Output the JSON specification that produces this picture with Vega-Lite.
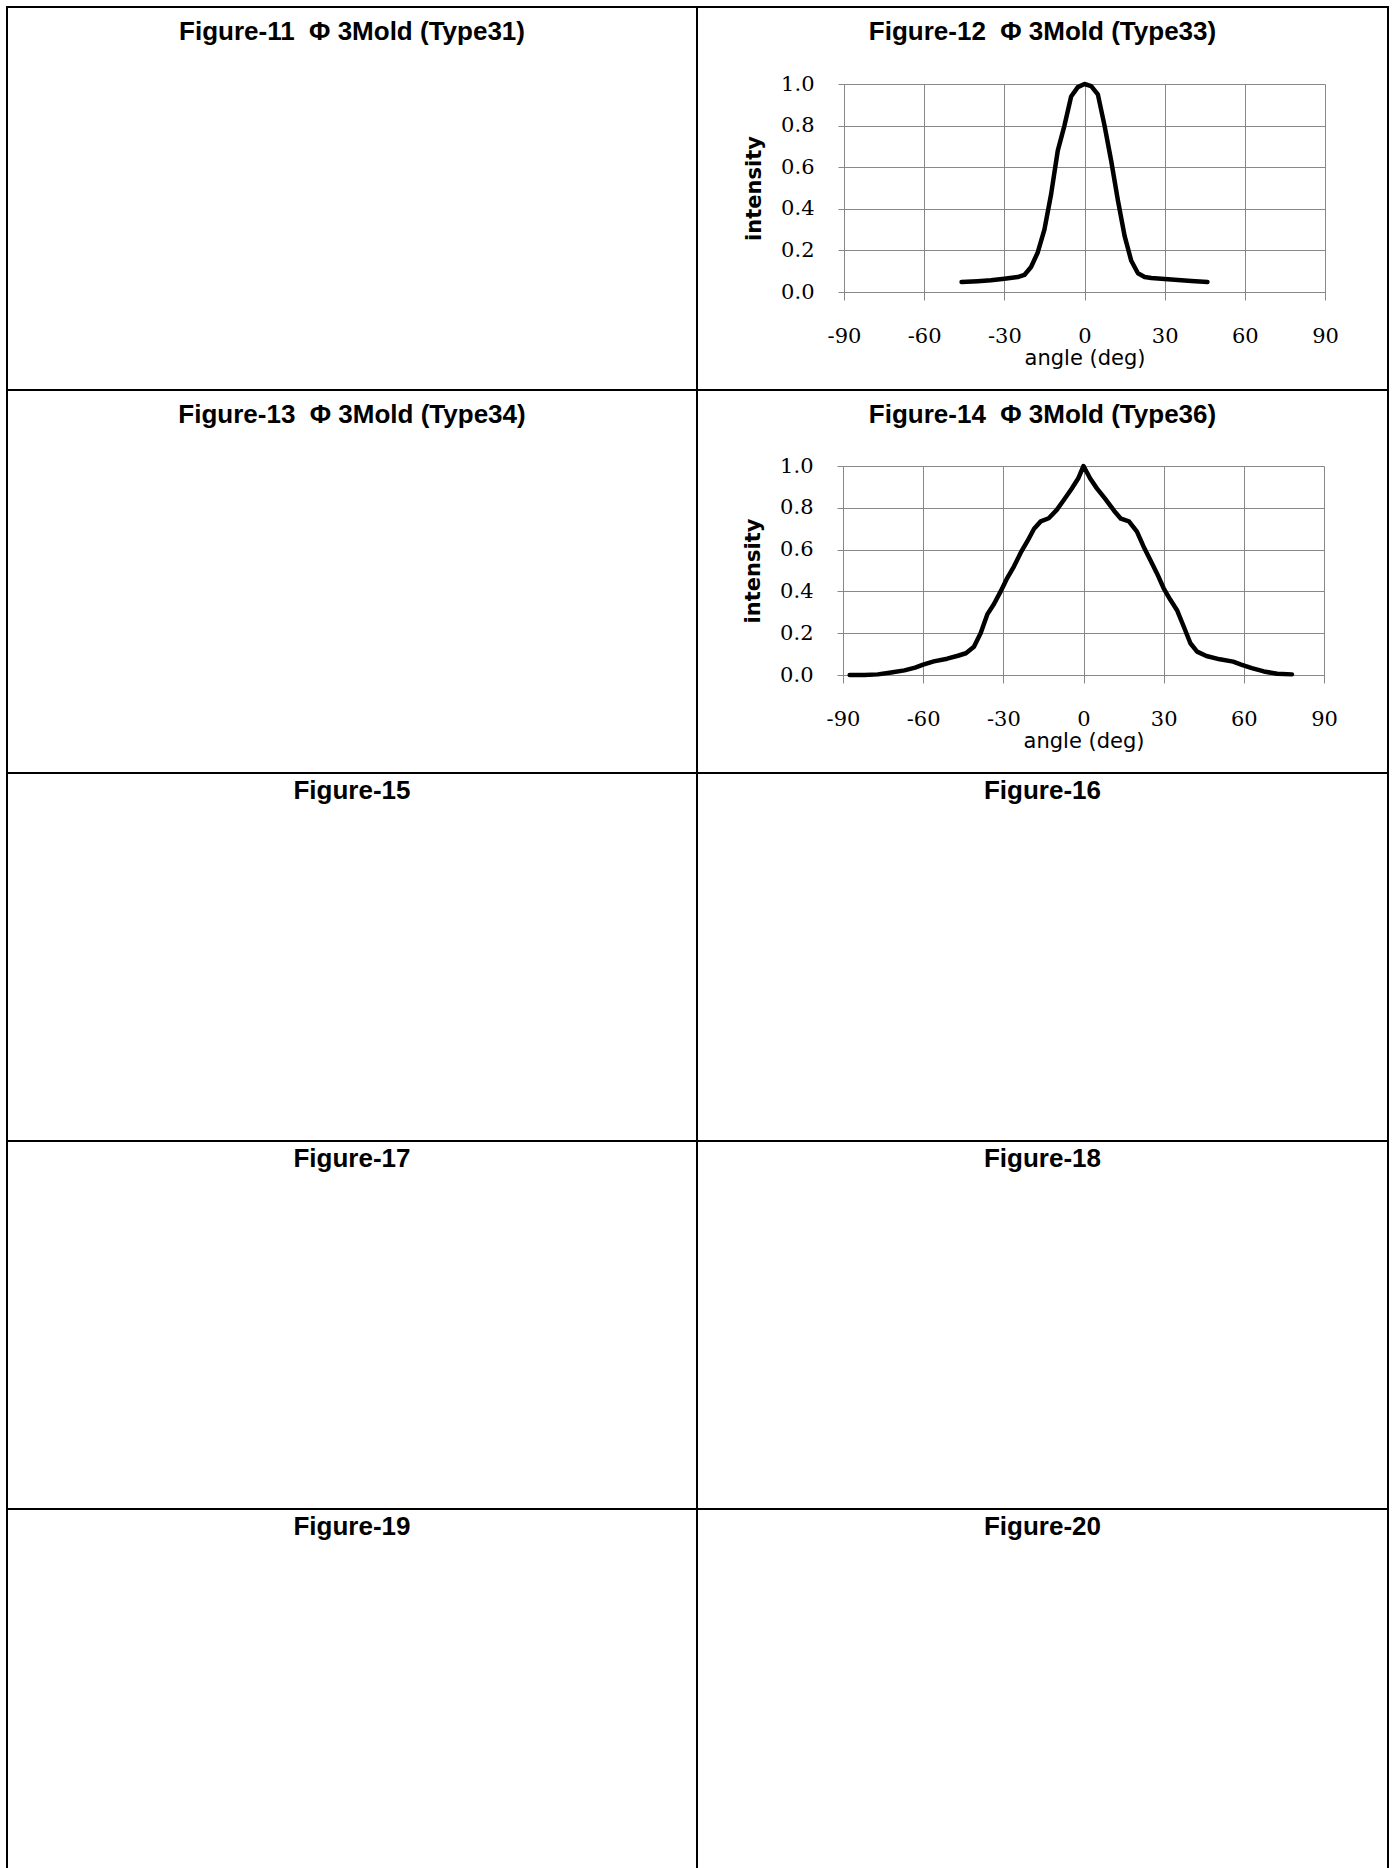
{
  "$schema": "https://vega.github.io/schema/vega-lite/v6.json",
  "padding": {"left": 6, "top": 6, "right": 0, "bottom": 0},
  "background": "white",
  "columns": 2,
  "spacing": 0,
  "bounds": "flush",
  "config": {
    "view": {"stroke": "black", "strokeWidth": 2, "fill": "white"},
    "title": {"font": "Liberation Sans", "fontSize": 26, "fontWeight": "bold", "anchor": "middle", "baseline": "alphabetic", "color": "black"},
    "axis": {
      "gridColor": "#888888", "domainColor": "#888888", "tickColor": "#888888",
      "gridWidth": 1, "domainWidth": 1, "tickWidth": 1,
      "labelFont": "DejaVu Serif", "labelFontSize": 21, "labelColor": "black",
      "titleFont": "DejaVu Sans", "titleFontSize": 21, "titleColor": "black", "titleFontWeight": "normal",
      "labelFlush": false, "labelOverlap": false
    }
  },
  "datasets": {
    "empty": [],
    "type33": [
      {"angle": -46, "intensity": 0.048},
      {"angle": -40, "intensity": 0.052},
      {"angle": -35, "intensity": 0.056},
      {"angle": -30, "intensity": 0.064},
      {"angle": -25, "intensity": 0.072},
      {"angle": -22.5, "intensity": 0.082},
      {"angle": -20, "intensity": 0.12},
      {"angle": -17.5, "intensity": 0.19},
      {"angle": -15, "intensity": 0.3},
      {"angle": -12.5, "intensity": 0.47},
      {"angle": -10, "intensity": 0.68},
      {"angle": -7.5, "intensity": 0.8},
      {"angle": -5, "intensity": 0.94},
      {"angle": -2.5, "intensity": 0.985},
      {"angle": 0, "intensity": 1.0},
      {"angle": 2.5, "intensity": 0.99},
      {"angle": 5, "intensity": 0.95},
      {"angle": 7.5, "intensity": 0.8},
      {"angle": 10, "intensity": 0.63},
      {"angle": 12.5, "intensity": 0.44},
      {"angle": 15, "intensity": 0.27},
      {"angle": 17.5, "intensity": 0.15},
      {"angle": 20, "intensity": 0.09},
      {"angle": 22.5, "intensity": 0.072},
      {"angle": 25, "intensity": 0.067},
      {"angle": 30, "intensity": 0.063},
      {"angle": 35, "intensity": 0.058},
      {"angle": 40, "intensity": 0.053},
      {"angle": 46, "intensity": 0.048}
    ],
    "type36": [
      {"angle": -87.5, "intensity": 0.0},
      {"angle": -82, "intensity": 0.0},
      {"angle": -77, "intensity": 0.003},
      {"angle": -72, "intensity": 0.012},
      {"angle": -67, "intensity": 0.022},
      {"angle": -63, "intensity": 0.035},
      {"angle": -60, "intensity": 0.05},
      {"angle": -56, "intensity": 0.065},
      {"angle": -51, "intensity": 0.078},
      {"angle": -47, "intensity": 0.092},
      {"angle": -44, "intensity": 0.104},
      {"angle": -41, "intensity": 0.135},
      {"angle": -38.5, "intensity": 0.2},
      {"angle": -36, "intensity": 0.29},
      {"angle": -33.5, "intensity": 0.34},
      {"angle": -31, "intensity": 0.4},
      {"angle": -28.5, "intensity": 0.465},
      {"angle": -26, "intensity": 0.52},
      {"angle": -23.5, "intensity": 0.585},
      {"angle": -21, "intensity": 0.64},
      {"angle": -18.5, "intensity": 0.7},
      {"angle": -16, "intensity": 0.735},
      {"angle": -13, "intensity": 0.75},
      {"angle": -10, "intensity": 0.79},
      {"angle": -7.5, "intensity": 0.835},
      {"angle": -4.5, "intensity": 0.89},
      {"angle": -2, "intensity": 0.94},
      {"angle": 0, "intensity": 1.0},
      {"angle": 2.5, "intensity": 0.94},
      {"angle": 5, "intensity": 0.893},
      {"angle": 8, "intensity": 0.845},
      {"angle": 11.5, "intensity": 0.785},
      {"angle": 14, "intensity": 0.748},
      {"angle": 17, "intensity": 0.735},
      {"angle": 20, "intensity": 0.686},
      {"angle": 22.5, "intensity": 0.614},
      {"angle": 25, "intensity": 0.55},
      {"angle": 27.5, "intensity": 0.486},
      {"angle": 30, "intensity": 0.415},
      {"angle": 32.5, "intensity": 0.36},
      {"angle": 35, "intensity": 0.31},
      {"angle": 37.5, "intensity": 0.232},
      {"angle": 40, "intensity": 0.152},
      {"angle": 42.5, "intensity": 0.112},
      {"angle": 46, "intensity": 0.091},
      {"angle": 51, "intensity": 0.075},
      {"angle": 56, "intensity": 0.064},
      {"angle": 59, "intensity": 0.05},
      {"angle": 63, "intensity": 0.033},
      {"angle": 67.5, "intensity": 0.017},
      {"angle": 72.5, "intensity": 0.006},
      {"angle": 78, "intensity": 0.003}
    ]
  },
  "concat": [
    {
      "width": 690, "height": 383,
      "title": {"text": "Figure-11\u00a0\u00a0Φ\u00a03Mold (Type31)", "offset": -38},
      "data": {"name": "empty"},
      "mark": "point",
      "encoding": {
        "x": {"field": "angle", "type": "quantitative", "axis": null},
        "y": {"field": "intensity", "type": "quantitative", "axis": null}
      }
    },
    {
      "width": 691, "height": 383,
      "title": {"text": "Figure-12\u00a0\u00a0Φ\u00a03Mold (Type33)", "offset": -38},
      "data": {"name": "type33"},
      "layer": [
        {
          "mark": {"type": "line", "opacity": 0},
          "encoding": {
            "x": {"field": "angle", "type": "quantitative",
              "scale": {"domain": [-90, 90], "range": [147, 628], "nice": false},
              "axis": {"orient": "top", "offset": -77, "grid": true, "labels": false, "ticks": false, "domain": false, "title": null, "values": [-90, -60, -30, 0, 30, 60, 90]}},
            "y": {"field": "intensity", "type": "quantitative",
              "scale": {"domain": [0, 1], "range": [285, 77], "nice": false, "zero": false},
              "axis": {"orient": "left", "offset": -147, "grid": true, "values": [0, 0.2, 0.4, 0.6, 0.8, 1.0], "format": ".1f",
                "title": "intensity", "tickSize": 6, "labelPadding": 24,
                "titleX": -90, "titleBaseline": "middle", "titleFontWeight": "bold"}}
          }
        },
        {
          "mark": {"type": "line", "color": "black", "strokeWidth": 4.5, "strokeJoin": "round", "strokeCap": "round"},
          "encoding": {
            "x": {"field": "angle", "type": "quantitative",
              "scale": {"domain": [-90, 90], "range": [147, 628], "nice": false},
              "axis": {"orient": "bottom", "offset": -98, "grid": false, "values": [-90, -60, -30, 0, 30, 60, 90],
                "labelExpr": "'' + datum.value",
                "title": "angle (deg)", "tickSize": 8, "labelPadding": 42, "labelBaseline": "alphabetic",
                "titleY": 72, "titleBaseline": "alphabetic"}},
            "y": {"field": "intensity", "type": "quantitative",
              "scale": {"domain": [0, 1], "range": [285, 77], "nice": false, "zero": false},
              "axis": {"orient": "left", "offset": -147, "grid": true, "values": [0, 0.2, 0.4, 0.6, 0.8, 1.0], "format": ".1f",
                "title": "intensity", "tickSize": 6, "labelPadding": 24,
                "titleX": -90, "titleBaseline": "middle", "titleFontWeight": "bold"}}
          }
        }
      ],
      "resolve": {"axis": {"x": "independent"}}
    },
    {
      "width": 690, "height": 383,
      "title": {"text": "Figure-13\u00a0\u00a0Φ\u00a03Mold (Type34)", "offset": -38},
      "data": {"name": "empty"},
      "mark": "point",
      "encoding": {
        "x": {"field": "angle", "type": "quantitative", "axis": null},
        "y": {"field": "intensity", "type": "quantitative", "axis": null}
      }
    },
    {
      "width": 691, "height": 383,
      "title": {"text": "Figure-14\u00a0\u00a0Φ\u00a03Mold (Type36)", "offset": -38},
      "data": {"name": "type36"},
      "layer": [
        {
          "mark": {"type": "line", "opacity": 0},
          "encoding": {
            "x": {"field": "angle", "type": "quantitative",
              "scale": {"domain": [-90, 90], "range": [146, 627], "nice": false},
              "axis": {"orient": "top", "offset": -76, "grid": true, "labels": false, "ticks": false, "domain": false, "title": null, "values": [-90, -60, -30, 0, 30, 60, 90]}},
            "y": {"field": "intensity", "type": "quantitative",
              "scale": {"domain": [0, 1], "range": [285, 76], "nice": false, "zero": false},
              "axis": {"orient": "left", "offset": -146, "grid": true, "values": [0, 0.2, 0.4, 0.6, 0.8, 1.0], "format": ".1f",
                "title": "intensity", "tickSize": 6, "labelPadding": 24,
                "titleX": -90, "titleBaseline": "middle", "titleFontWeight": "bold"}}
          }
        },
        {
          "mark": {"type": "line", "color": "black", "strokeWidth": 4.5, "strokeJoin": "round", "strokeCap": "round"},
          "encoding": {
            "x": {"field": "angle", "type": "quantitative",
              "scale": {"domain": [-90, 90], "range": [146, 627], "nice": false},
              "axis": {"orient": "bottom", "offset": -98, "grid": false, "values": [-90, -60, -30, 0, 30, 60, 90],
                "labelExpr": "'' + datum.value",
                "title": "angle (deg)", "tickSize": 8, "labelPadding": 42, "labelBaseline": "alphabetic",
                "titleY": 72, "titleBaseline": "alphabetic"}},
            "y": {"field": "intensity", "type": "quantitative",
              "scale": {"domain": [0, 1], "range": [285, 76], "nice": false, "zero": false},
              "axis": {"orient": "left", "offset": -146, "grid": true, "values": [0, 0.2, 0.4, 0.6, 0.8, 1.0], "format": ".1f",
                "title": "intensity", "tickSize": 6, "labelPadding": 24,
                "titleX": -90, "titleBaseline": "middle", "titleFontWeight": "bold"}}
          }
        }
      ],
      "resolve": {"axis": {"x": "independent"}}
    },
    {
      "width": 690, "height": 368,
      "title": {"text": "Figure-15", "offset": -31},
      "data": {"name": "empty"},
      "mark": "point",
      "encoding": {
        "x": {"field": "angle", "type": "quantitative", "axis": null},
        "y": {"field": "intensity", "type": "quantitative", "axis": null}
      }
    },
    {
      "width": 691, "height": 368,
      "title": {"text": "Figure-16", "offset": -31},
      "data": {"name": "empty"},
      "mark": "point",
      "encoding": {
        "x": {"field": "angle", "type": "quantitative", "axis": null},
        "y": {"field": "intensity", "type": "quantitative", "axis": null}
      }
    },
    {
      "width": 690, "height": 368,
      "title": {"text": "Figure-17", "offset": -31},
      "data": {"name": "empty"},
      "mark": "point",
      "encoding": {
        "x": {"field": "angle", "type": "quantitative", "axis": null},
        "y": {"field": "intensity", "type": "quantitative", "axis": null}
      }
    },
    {
      "width": 691, "height": 368,
      "title": {"text": "Figure-18", "offset": -31},
      "data": {"name": "empty"},
      "mark": "point",
      "encoding": {
        "x": {"field": "angle", "type": "quantitative", "axis": null},
        "y": {"field": "intensity", "type": "quantitative", "axis": null}
      }
    },
    {
      "width": 690, "height": 368,
      "title": {"text": "Figure-19", "offset": -31},
      "data": {"name": "empty"},
      "mark": "point",
      "encoding": {
        "x": {"field": "angle", "type": "quantitative", "axis": null},
        "y": {"field": "intensity", "type": "quantitative", "axis": null}
      }
    },
    {
      "width": 691, "height": 368,
      "title": {"text": "Figure-20", "offset": -31},
      "data": {"name": "empty"},
      "mark": "point",
      "encoding": {
        "x": {"field": "angle", "type": "quantitative", "axis": null},
        "y": {"field": "intensity", "type": "quantitative", "axis": null}
      }
    }
  ]
}
